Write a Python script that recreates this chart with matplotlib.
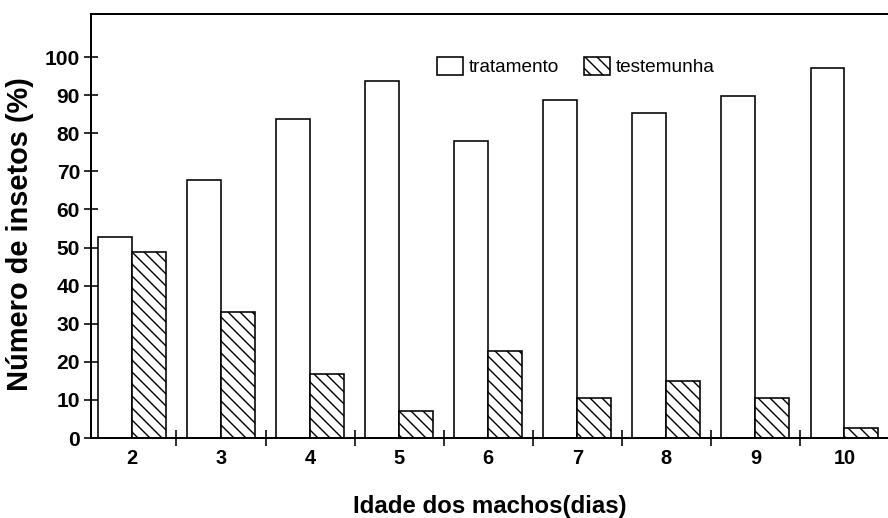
import numpy as np
import matplotlib
matplotlib.use('Agg')
import matplotlib.pyplot as plt
from matplotlib.patches import Patch

idades = [2, 3, 4, 5, 6, 7, 8, 9, 10]
tratamento = [52.7, 67.7, 83.7, 93.7, 78.0, 88.8, 85.3, 89.8, 97.1]
testemunha = [48.8, 33.2, 16.8, 7.1, 22.8, 10.6, 15.0, 10.4, 2.6]
yticks = [0, 10, 20, 30, 40, 50, 60, 70, 80, 90, 100]

plt.rcParams['font.family'] = ['Liberation Sans', 'DejaVu Sans']
plt.rcParams['hatch.linewidth'] = 1.4

fig = plt.figure(figsize=(888/72, 518/72), dpi=72)
ax = fig.add_axes([91/888, 1-438/518, 1-91/888, (438-14)/518])

x = np.array(idades)
w = 0.38
ax.bar(x - w/2, tratamento, w, color='white', edgecolor='black', linewidth=1.6)
ax.bar(x + w/2, testemunha, w, color='white', edgecolor='black', linewidth=1.6, hatch='\\\\')

ax.set_xlim(1.54, 10.49)
ax.set_ylim(0, 111.3)
ax.spines['right'].set_visible(False)
for s in ['left', 'bottom', 'top']:
	ax.spines[s].set_linewidth(2)

ax.set_xticks(idades)
ax.set_xticklabels([str(i) for i in idades], fontsize=20, fontweight='bold')
ax.tick_params(axis='x', which='major', length=0, pad=11)
ax.set_xticks([i + 0.5 for i in idades[:-1]], minor=True)
ax.tick_params(axis='x', which='minor', direction='inout', length=16, width=1.6)

ax.set_yticks(yticks)
ax.set_yticklabels([str(v) for v in yticks], fontsize=21, fontweight='bold')
ax.tick_params(axis='y', direction='inout', length=14, width=1.6, pad=4)

ax.set_ylabel('Número de insetos (%)', fontsize=29, fontweight='bold')
ax.yaxis.set_label_coords(-57/797, 0.481)
ax.set_xlabel('Idade dos machos(dias)', fontsize=24, fontweight='bold')
ax.xaxis.set_label_coords(0.5, -57/424)

handles = [Patch(facecolor='white', edgecolor='black', linewidth=1.6, label='tratamento'),
	Patch(facecolor='white', edgecolor='black', linewidth=1.6, hatch='\\\\', label='testemunha')]
fig.legend(handles=handles, loc='upper left', bbox_to_anchor=(427/888, 1-47/518), ncol=2, frameon=False,
	fontsize=19, handlelength=1.4, handleheight=1.15, handletextpad=0.3, columnspacing=1.3, borderpad=0)

plt.savefig('out.png', dpi=72)
